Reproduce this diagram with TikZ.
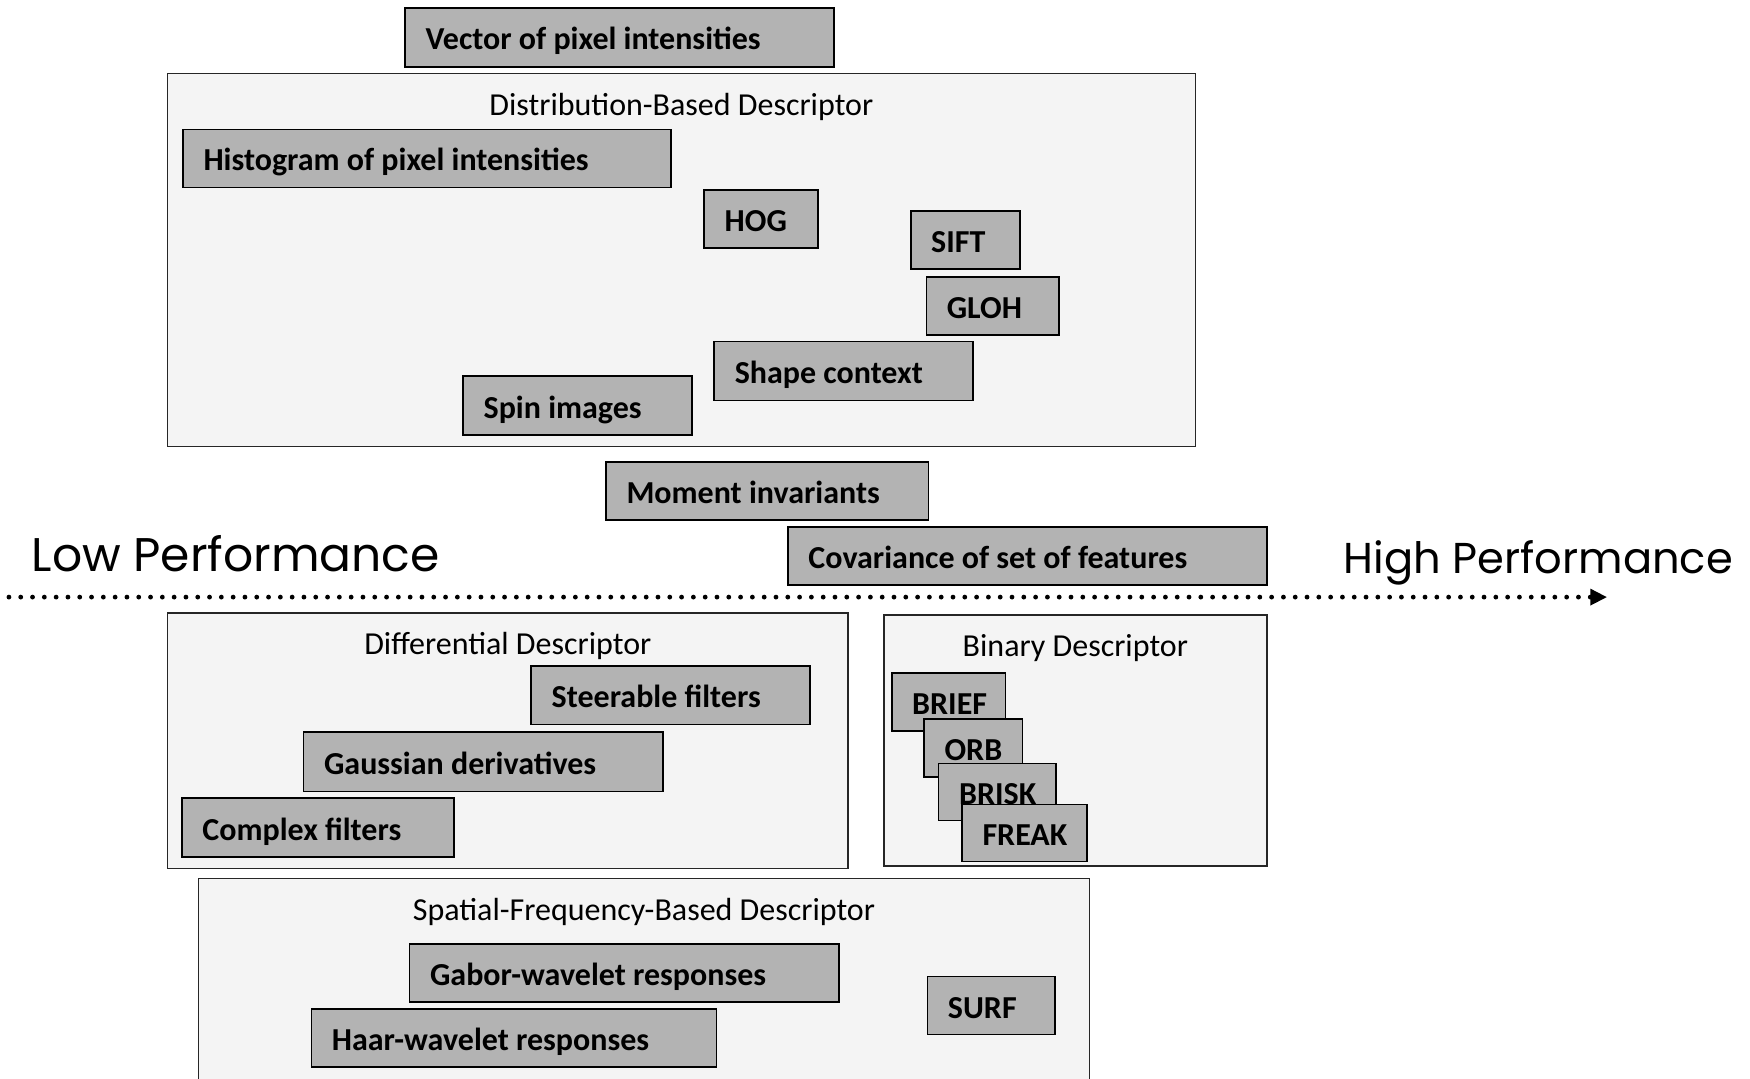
\documentclass[tikz,border=0pt]{standalone}
\usepackage{fontspec}
\setmainfont{Carlito}
\newfontfamily\perffont{Poppins}
\usetikzlibrary{fit,calc,arrows.meta}
\definecolor{boxgray}{HTML}{B3B3B3}
\definecolor{outgray}{HTML}{F4F4F4}
\newcommand\gb[6]{%
  \node[gbox, fit={(#2,#3) (#4,#5)}] (#1) {};
  \node[lbl] (#1-t) at ({#2+18},{(#3+#5)/2+11.2}) {#6};}
\newcommand\ob[6]{%
  \node[obox, fit={(#2,#3) (#4,#5)}] (#1) {};
  \node[ttl] (#1-t) at ({(#2+#4)/2},{#3+37.5}) {#6};}
\begin{document}
\begin{tikzpicture}[x=0.558pt,y=-0.558pt,
  gbox/.style={draw=black, line width=0.8pt, fill=boxgray, inner sep=0pt},
  obox/.style={draw=black!85, line width=0.8pt, fill=outgray, inner sep=0pt},
  lbl/.style={font=\fontsize{16}{19}\selectfont\bfseries, inner sep=0pt, anchor=base west},
  ttl/.style={font=\fontsize{16}{19}\selectfont, inner sep=0pt, anchor=base},
  perf/.style={inner sep=0pt}]
\useasboundingbox (0,0) rectangle (1568,966);
\clip (0,0) rectangle (1568,966);
\fill[white] (0,0) rectangle (1568,966);

\gb{vec}{363}{7}{747}{60}{Vector of pixel intensities}

\ob{dist}{150}{66}{1071}{400}{Distribution-Based Descriptor}
\gb{hist}{164}{116}{601}{168}{Histogram of pixel intensities}
\gb{hog}{631}{170}{733}{222}{HOG}
\gb{sift}{816}{189}{914}{241}{SIFT}
\gb{gloh}{830}{248}{949}{300}{GLOH}
\gb{shape}{640}{306}{872}{359}{Shape context}
\gb{spin}{415}{337}{620}{390}{Spin images}

\gb{moment}{543}{414}{832}{466}{Moment invariants}
\gb{cov}{706}{472}{1135}{524}{Covariance of set of features}

\node[perf, anchor=base west, font=\perffont\fontsize{23.6}{28}\selectfont] (low) at (28,512) {Low Performance};
\node[perf, anchor=base east, font=\perffont\fontsize{21.6}{26}\selectfont] (high) at (1553,514) {High Performance};
\coordinate (a0) at (8,535);
\coordinate (a1) at (1440,535);
\draw[line width=2.4pt, dash pattern=on 0pt off 5.9pt, line cap=round,
  -{Triangle[length=8.4pt,width=7.8pt]}] (a0) -- (a1);

\ob{diff}{150}{549}{760}{778}{Differential Descriptor}
\gb{steer}{476}{597}{726}{649}{Steerable filters}
\gb{gauss}{272}{656}{594}{709}{Gaussian derivatives}
\gb{complex}{163}{715}{407}{768}{Complex filters}

\ob{bin}{792}{551}{1135}{776}{Binary Descriptor}
\gb{brief}{799}{603}{901}{655}{BRIEF}
\gb{orb}{828}{644}{916}{696}{ORB}
\gb{brisk}{841}{684}{946}{735}{BRISK}
\gb{freak}{862}{721}{974}{772}{FREAK}

\ob{spat}{178}{787}{976}{1010}{Spatial-Frequency-Based Descriptor}
\gb{gabor}{367}{846}{752}{898}{Gabor-wavelet responses}
\gb{haar}{279}{904}{642}{956}{Haar-wavelet responses}
\gb{surf}{831}{875}{945}{927}{SURF}
\end{tikzpicture}
\end{document}
